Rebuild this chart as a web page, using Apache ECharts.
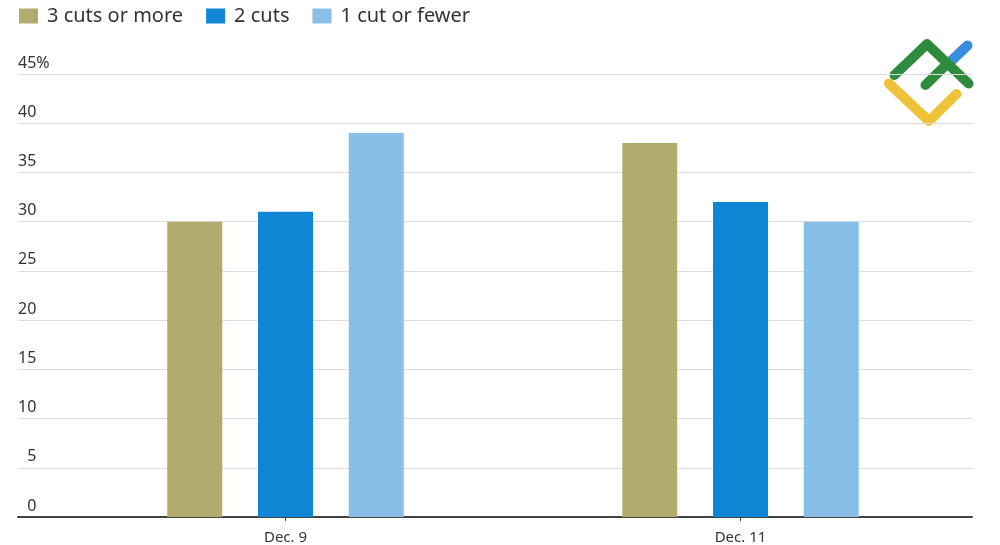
<!DOCTYPE html>
<html><head><meta charset="utf-8">
<script src="https://cdn.jsdelivr.net/npm/echarts@6/dist/echarts.min.js"></script>
<style>html,body{margin:0;padding:0;background:#fff}#c{width:1000px;height:545px}</style>
</head><body><div id="c"></div>
<script>
const categories = ['Dec. 9', 'Dec. 11'];
const seriesNames = ['3 cuts or more', '2 cuts', '1 cut or fewer'];
const threeOrMore = [30, 38];
const twoCuts = [31, 32];
const oneOrFewer = [39, 30];
const yTicks = [0, 5, 10, 15, 20, 25, 30, 35, 40, 45];
const colors = ['#b3aa6e', '#0f86d4', '#88bfe9'];

const FONT = 'Noto Sans';
const chart = echarts.init(document.getElementById('c'), null, {renderer: 'canvas'});
const yMin = yTicks[0], yMax = yTicks[yTicks.length - 1], yInt = yTicks[1] - yTicks[0];

const values = [threeOrMore, twoCuts, oneOrFewer];
chart.setOption({
  animation: false,
  textStyle: {fontFamily: FONT},
  legend: {
    left: 19, top: 6, padding: 0,
    itemWidth: 19, itemHeight: 15, itemGap: 23, icon: 'rect',
    textStyle: {fontSize: 20, color: '#333', fontFamily: FONT, padding: [0, 0, 0, 4]},
    data: seriesNames
  },
  grid: [
    {left: 18, right: 28, top: 74, bottom: 28},
    {left: 58, right: 32, top: 74, bottom: 28}
  ],
  xAxis: [
    {gridIndex: 0, type: 'category', data: [''], axisLine: {show: true, lineStyle: {color: '#444', width: 2}},
     axisTick: {show: false}, axisLabel: {show: false}, splitLine: {show: false}},
    {gridIndex: 1, type: 'category', data: categories,
     axisLine: {show: false},
     axisTick: {show: true, alignWithLabel: true, length: 4, lineStyle: {color: '#444'}},
     axisLabel: {fontSize: 15, color: '#333', margin: 13, fontFamily: FONT}}
  ],
  yAxis: [
    {gridIndex: 0, type: 'value', min: yMin, max: yMax, interval: yInt,
     axisLine: {show: false}, axisTick: {show: false},
     splitLine: {show: true, lineStyle: {color: '#dcdcdc', width: 1}},
     axisLabel: {inside: true, margin: 0, align: 'left', verticalAlign: 'bottom',
       padding: [0, 0, 3, 0], fontSize: 16, color: '#333', fontFamily: FONT,
       formatter: v => v === yMax ? v + '%' : (v < 10 ? '\u2007' + v : String(v))}},
    {gridIndex: 1, type: 'value', min: yMin, max: yMax, interval: yInt, show: false,
     splitLine: {show: false}}
  ],
  series: seriesNames.map((n, i) => ({
    name: n, type: 'bar', xAxisIndex: 1, yAxisIndex: 1,
    data: values[i], barWidth: 55, barGap: '65%',
    itemStyle: {color: colors[i]}
  })),
  graphic: [
    {type: 'polyline', shape: {points: [[889, 83.5], [929, 121], [956.5, 94]]},
     style: {stroke: '#eec33a', lineWidth: 10, lineCap: 'round', lineJoin: 'round', fill: null}},
    {type: 'polyline', shape: {points: [[949, 63], [967.5, 45.5]]},
     style: {stroke: '#3a8fdc', lineWidth: 10, lineCap: 'round', fill: null}},
    {type: 'polyline', shape: {points: [[925.5, 85], [947, 64]]},
     style: {stroke: '#2e8b3e', lineWidth: 10, lineCap: 'round', fill: null}},
    {type: 'polyline', shape: {points: [[894.5, 75], [927, 44], [968.5, 83.5]]},
     style: {stroke: '#2e8b3e', lineWidth: 10, lineCap: 'round', lineJoin: 'round', fill: null}}
  ]
});
</script></body></html>
